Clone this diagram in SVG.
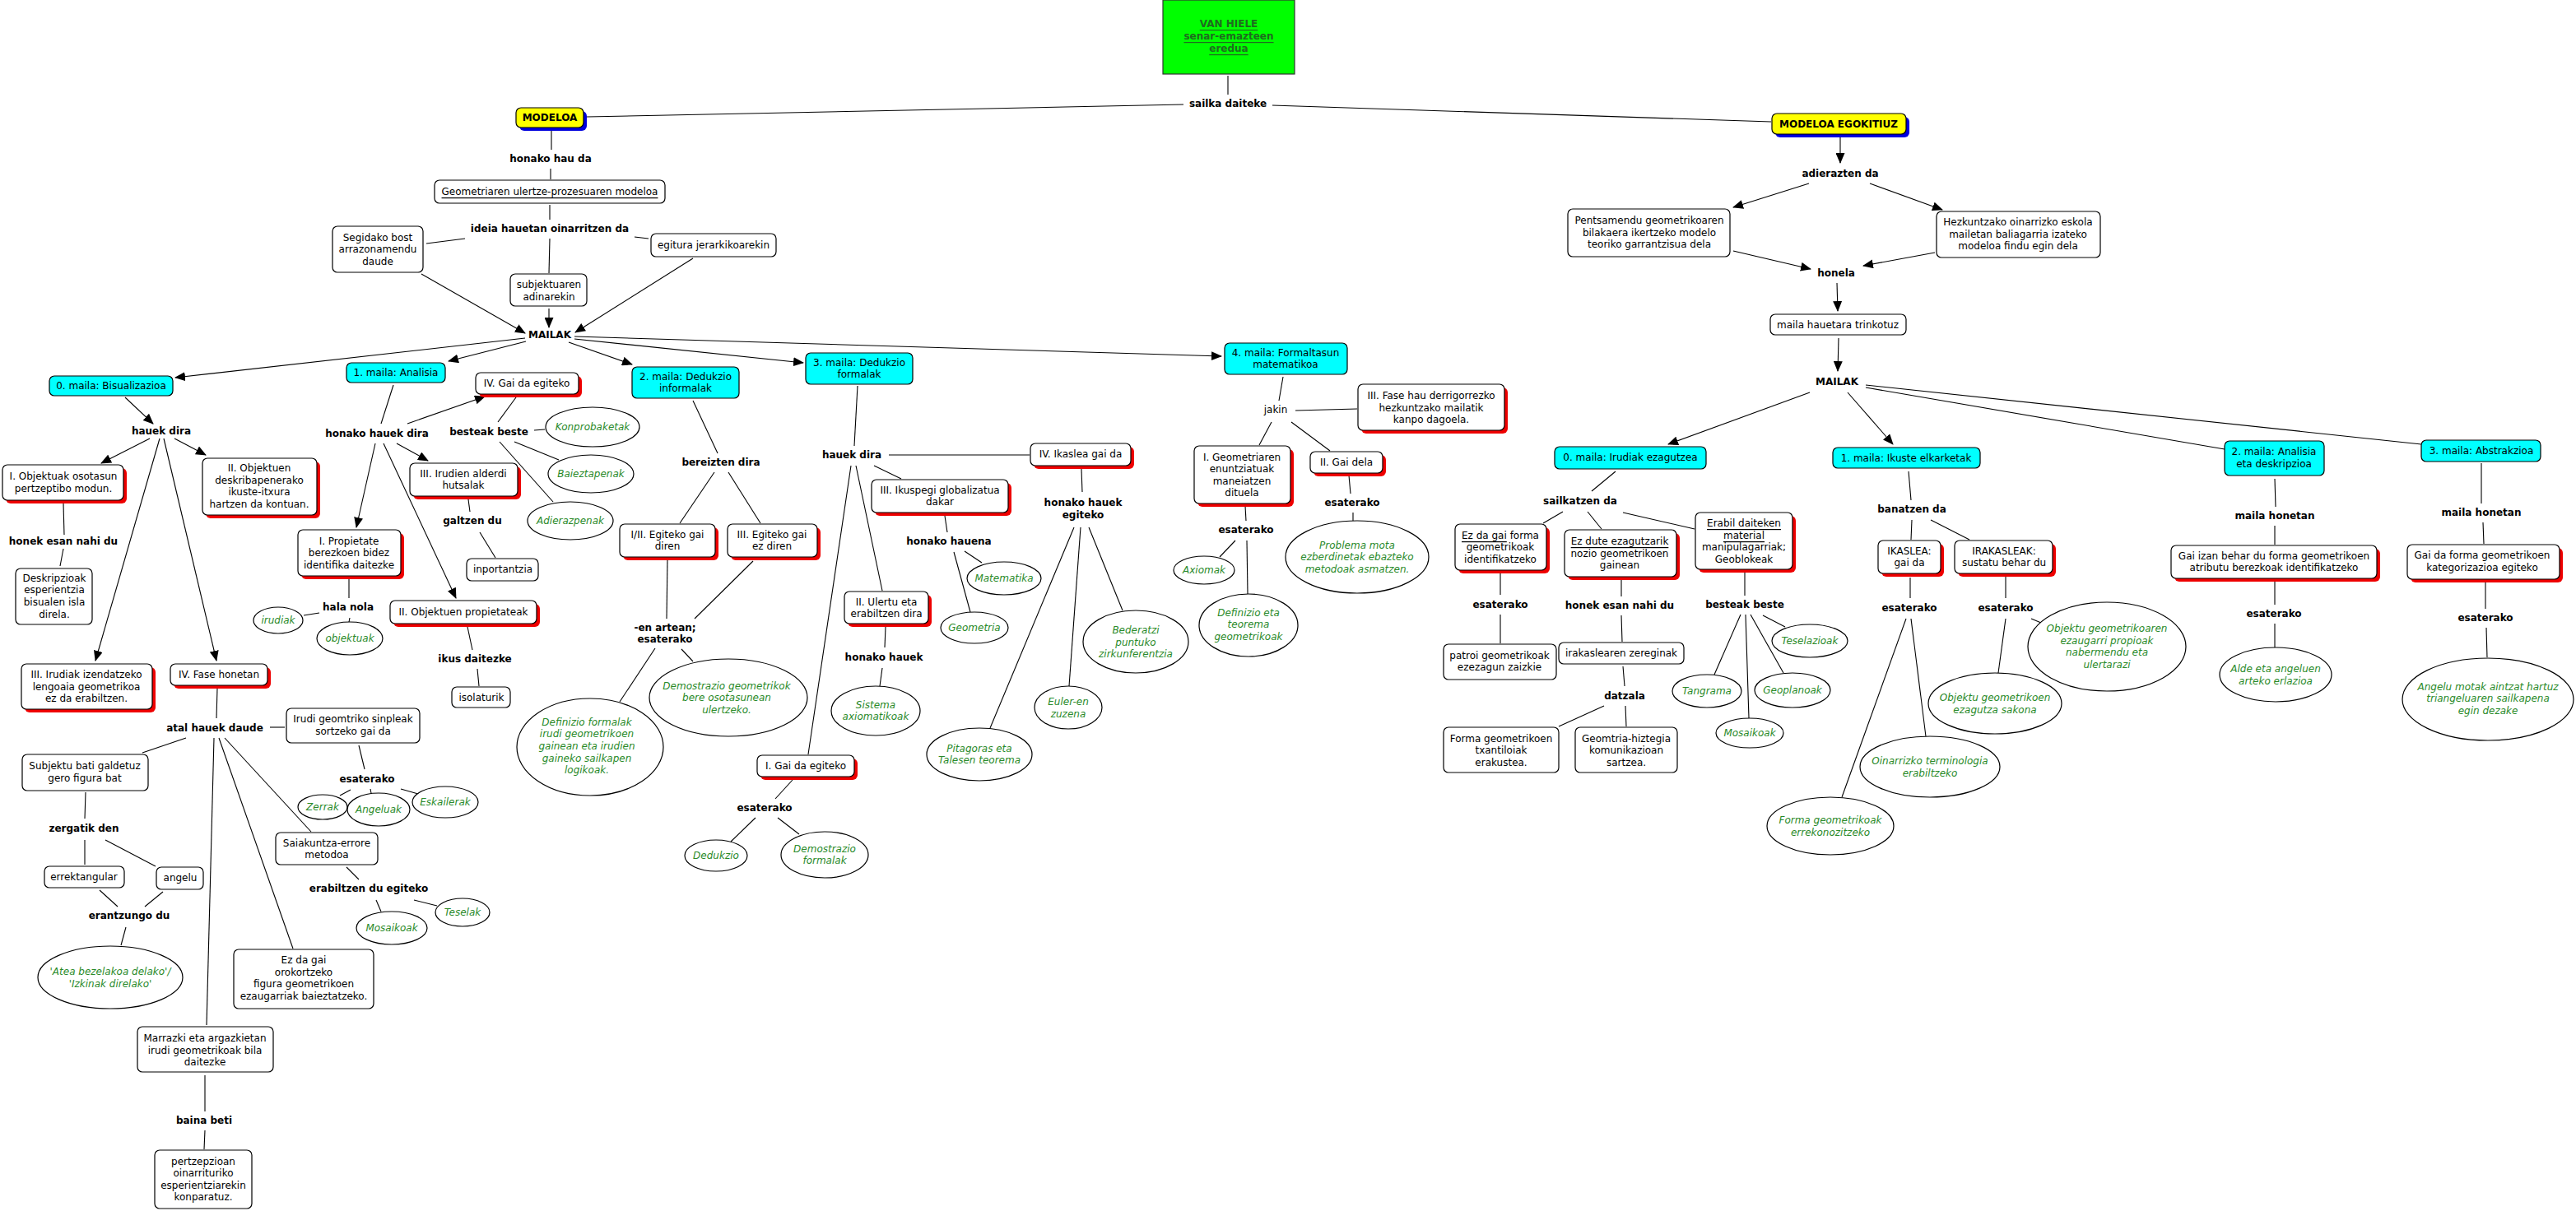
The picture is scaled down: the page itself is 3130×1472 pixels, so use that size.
<svg xmlns="http://www.w3.org/2000/svg" width="3130" height="1472" viewBox="0 0 3130 1472">
<style>
text{font-family:"DejaVu Sans","Liberation Sans",sans-serif;font-size:12px;text-anchor:middle;dominant-baseline:central;fill:#000}
.b{font-weight:bold}
.g{fill:#2a8a2a;font-style:italic}
.u{text-decoration:underline}
.box{fill:#fff;stroke:#000;stroke-width:1.2}
.lvl{fill:#00ffff;stroke:#000;stroke-width:1.2}
.sh{fill:#ee0000}
.ell{fill:#fff;stroke:#000;stroke-width:1.2}
.top{fill:#ffff00;stroke:#000;stroke-width:1.2}
.bsh{fill:#0000dd}
#conn line{stroke:#000;stroke-width:1.1}
#conn line.a{marker-end:url(#ah)}
</style>
<defs>
<marker id="ah" markerUnits="userSpaceOnUse" markerWidth="13" markerHeight="11" refX="12" refY="5.5" viewBox="0 0 13 11" orient="auto"><path d="M0,0 L13,5.5 L0,11 z" fill="#000"/></marker>
</defs>
<rect width="3130" height="1472" fill="#fff"/>
<g id="conn">
<line x1="1492" y1="92" x2="1492" y2="115"/>
<line x1="1438" y1="127" x2="713" y2="142"/>
<line x1="1546" y1="128" x2="2152" y2="148"/>
<line x1="670" y1="159" x2="670" y2="182"/>
<line x1="669" y1="205" x2="669" y2="218"/>
<line x1="668" y1="249" x2="668" y2="267"/>
<line x1="565" y1="290" x2="518" y2="296"/>
<line x1="771" y1="288" x2="788" y2="290"/>
<line x1="668" y1="290" x2="667" y2="332"/>
<line class="a" x1="667" y1="375" x2="667" y2="398"/>
<line class="a" x1="512" y1="333" x2="638" y2="405"/>
<line class="a" x1="842" y1="314" x2="699" y2="404"/>
<line class="a" x1="638" y1="411" x2="213" y2="459"/>
<line class="a" x1="639" y1="415" x2="545" y2="439"/>
<line class="a" x1="691" y1="416" x2="768" y2="443"/>
<line class="a" x1="698" y1="412" x2="976" y2="441"/>
<line class="a" x1="698" y1="409" x2="1484" y2="433"/>
<line class="a" x1="152" y1="483" x2="186" y2="515"/>
<line class="a" x1="182" y1="533" x2="123" y2="563"/>
<line class="a" x1="212" y1="533" x2="250" y2="553"/>
<line class="a" x1="194" y1="533" x2="116" y2="803"/>
<line class="a" x1="199" y1="533" x2="263" y2="803"/>
<line x1="77" y1="612" x2="78" y2="650"/>
<line x1="77" y1="667" x2="73" y2="688"/>
<line x1="264" y1="837" x2="263" y2="873"/>
<line x1="328" y1="884" x2="346" y2="884"/>
<line x1="436" y1="906" x2="443" y2="935"/>
<line x1="426" y1="960" x2="413" y2="967"/>
<line x1="450" y1="959" x2="451" y2="964"/>
<line x1="487" y1="959" x2="508" y2="965"/>
<line x1="226" y1="897" x2="173" y2="915"/>
<line x1="260" y1="897" x2="251" y2="1246"/>
<line x1="266" y1="897" x2="356" y2="1153"/>
<line x1="273" y1="897" x2="378" y2="1011"/>
<line x1="104" y1="963" x2="103" y2="995"/>
<line x1="103" y1="1021" x2="103" y2="1051"/>
<line x1="128" y1="1021" x2="189" y2="1053"/>
<line x1="121" y1="1082" x2="143" y2="1102"/>
<line x1="198" y1="1084" x2="176" y2="1102"/>
<line x1="153" y1="1127" x2="147" y2="1149"/>
<line x1="421" y1="1054" x2="436" y2="1069"/>
<line x1="457" y1="1094" x2="463" y2="1108"/>
<line x1="503" y1="1094" x2="531" y2="1101"/>
<line x1="249" y1="1307" x2="249" y2="1351"/>
<line x1="249" y1="1374" x2="248" y2="1397"/>
<line x1="478" y1="468" x2="463" y2="515"/>
<line class="a" x1="495" y1="515" x2="589" y2="482"/>
<line class="a" x1="456" y1="539" x2="433" y2="641"/>
<line class="a" x1="482" y1="539" x2="520" y2="560"/>
<line class="a" x1="466" y1="539" x2="554" y2="727"/>
<line x1="627" y1="483" x2="605" y2="513"/>
<line x1="649" y1="523" x2="662" y2="522"/>
<line x1="625" y1="537" x2="679" y2="559"/>
<line x1="607" y1="537" x2="672" y2="610"/>
<line x1="569" y1="607" x2="571" y2="622"/>
<line x1="583" y1="647" x2="602" y2="678"/>
<line x1="424" y1="703" x2="424" y2="727"/>
<line x1="388" y1="745" x2="369" y2="748"/>
<line x1="425" y1="751" x2="424" y2="756"/>
<line x1="568" y1="762" x2="574" y2="790"/>
<line x1="580" y1="813" x2="582" y2="834"/>
<line x1="842" y1="487" x2="872" y2="551"/>
<line x1="868" y1="574" x2="826" y2="636"/>
<line x1="885" y1="574" x2="924" y2="636"/>
<line x1="811" y1="680" x2="810" y2="752"/>
<line x1="915" y1="682" x2="844" y2="752"/>
<line x1="796" y1="788" x2="753" y2="853"/>
<line x1="828" y1="789" x2="842" y2="804"/>
<line x1="1042" y1="469" x2="1038" y2="542"/>
<line x1="1080" y1="553" x2="1251" y2="553"/>
<line x1="1062" y1="566" x2="1095" y2="582"/>
<line x1="1040" y1="566" x2="1072" y2="718"/>
<line x1="1034" y1="566" x2="982" y2="917"/>
<line x1="1148" y1="627" x2="1151" y2="647"/>
<line x1="1172" y1="670" x2="1193" y2="684"/>
<line x1="1159" y1="671" x2="1179" y2="744"/>
<line x1="1076" y1="762" x2="1075" y2="787"/>
<line x1="1072" y1="812" x2="1069" y2="834"/>
<line x1="1314" y1="570" x2="1315" y2="598"/>
<line x1="1305" y1="641" x2="1203" y2="885"/>
<line x1="1313" y1="641" x2="1299" y2="834"/>
<line x1="1323" y1="641" x2="1364" y2="742"/>
<line x1="963" y1="948" x2="942" y2="971"/>
<line x1="918" y1="994" x2="888" y2="1023"/>
<line x1="945" y1="994" x2="971" y2="1014"/>
<line x1="1559" y1="458" x2="1554" y2="487"/>
<line x1="1545" y1="513" x2="1530" y2="541"/>
<line x1="1574" y1="499" x2="1649" y2="497"/>
<line x1="1569" y1="513" x2="1616" y2="548"/>
<line x1="1513" y1="615" x2="1514" y2="633"/>
<line x1="1501" y1="657" x2="1482" y2="677"/>
<line x1="1515" y1="657" x2="1516" y2="722"/>
<line x1="1639" y1="578" x2="1641" y2="600"/>
<line x1="1644" y1="623" x2="1644" y2="633"/>
<line class="a" x1="2236" y1="167" x2="2236" y2="198"/>
<line class="a" x1="2198" y1="223" x2="2106" y2="252"/>
<line class="a" x1="2272" y1="223" x2="2360" y2="255"/>
<line class="a" x1="2106" y1="305" x2="2200" y2="327"/>
<line class="a" x1="2351" y1="307" x2="2264" y2="323"/>
<line class="a" x1="2232" y1="344" x2="2233" y2="378"/>
<line class="a" x1="2234" y1="411" x2="2233" y2="451"/>
<line class="a" x1="2199" y1="477" x2="2027" y2="540"/>
<line class="a" x1="2245" y1="477" x2="2300" y2="540"/>
<line x1="2267" y1="468" x2="2942" y2="540"/>
<line x1="2267" y1="471" x2="2703" y2="546"/>
<line x1="1963" y1="573" x2="1934" y2="597"/>
<line x1="1899" y1="622" x2="1875" y2="636"/>
<line x1="1929" y1="622" x2="1946" y2="643"/>
<line x1="1972" y1="623" x2="2059" y2="643"/>
<line x1="1823" y1="696" x2="1823" y2="723"/>
<line x1="1823" y1="747" x2="1823" y2="782"/>
<line x1="1970" y1="705" x2="1970" y2="725"/>
<line x1="1970" y1="748" x2="1971" y2="780"/>
<line x1="1972" y1="810" x2="1974" y2="834"/>
<line x1="1949" y1="858" x2="1894" y2="883"/>
<line x1="1975" y1="858" x2="1976" y2="883"/>
<line x1="2120" y1="696" x2="2120" y2="724"/>
<line x1="2142" y1="748" x2="2169" y2="762"/>
<line x1="2115" y1="747" x2="2083" y2="820"/>
<line x1="2121" y1="747" x2="2125" y2="873"/>
<line x1="2127" y1="747" x2="2167" y2="818"/>
<line x1="2319" y1="573" x2="2322" y2="608"/>
<line x1="2323" y1="632" x2="2322" y2="656"/>
<line x1="2346" y1="632" x2="2393" y2="656"/>
<line x1="2321" y1="702" x2="2321" y2="727"/>
<line x1="2316" y1="752" x2="2238" y2="969"/>
<line x1="2322" y1="752" x2="2340" y2="895"/>
<line x1="2437" y1="701" x2="2437" y2="727"/>
<line x1="2437" y1="752" x2="2428" y2="818"/>
<line x1="2468" y1="752" x2="2480" y2="757"/>
<line x1="2764" y1="582" x2="2765" y2="616"/>
<line x1="2764" y1="639" x2="2764" y2="662"/>
<line x1="2764" y1="707" x2="2764" y2="735"/>
<line x1="2764" y1="758" x2="2764" y2="787"/>
<line x1="3015" y1="563" x2="3015" y2="612"/>
<line x1="3017" y1="635" x2="3018" y2="661"/>
<line x1="3020" y1="708" x2="3020" y2="740"/>
<line x1="3021" y1="763" x2="3022" y2="799"/>
</g>

<g id="vanhiele"><rect x="1413" y="0" width="160" height="90" fill="#00ff00" stroke="#333" stroke-width="1.2"/><text class="b u" fill="#1f6b1f" style="fill:#1f6b1f"><tspan x="1493" y="29">VAN HIELE</tspan><tspan x="1493" y="44">senar-emazteen</tspan><tspan x="1493" y="59">eredua</tspan></text></g>
<g id="l-sailka"><text class="b" x="1492" y="126">sailka daiteke</text></g>
<g id="modeloa"><rect class="bsh" x="631" y="135" width="82" height="24" rx="6"/><rect class="top" x="627" y="131" width="82" height="24" rx="6"/><text class="b" x="668" y="143">MODELOA</text></g>
<g id="modeloa-egok"><rect class="bsh" x="2157" y="142" width="163" height="25" rx="6"/><rect class="top" x="2153" y="138" width="163" height="25" rx="6"/><text class="b" x="2234" y="151">MODELOA EGOKITIUZ</text></g>
<g id="l-honako-hau-da"><text class="b" x="669" y="193">honako hau da</text></g>
<g id="geometriaren"><rect class="box" x="528" y="219" width="280" height="28" rx="6"/><text class="u" x="668" y="233">Geometriaren ulertze-prozesuaren modeloa</text></g>
<g id="l-ideia"><text class="b" x="668" y="278">ideia hauetan oinarritzen da</text></g>
<g id="segidako"><rect class="box" x="404" y="275" width="110" height="56" rx="6"/><text><tspan x="459" y="289">Segidako bost</tspan><tspan x="459" y="303">arrazonamendu</tspan><tspan x="459" y="318">daude</tspan></text></g>
<g id="egitura"><rect class="box" x="791" y="284" width="152" height="28" rx="6"/><text x="867" y="298">egitura jerarkikoarekin</text></g>
<g id="subjektuaren"><rect class="box" x="620" y="333" width="93" height="39" rx="6"/><text><tspan x="667" y="346">subjektuaren</tspan><tspan x="667" y="361">adinarekin</tspan></text></g>
<g id="l-mailak1"><text class="b" x="668" y="407">MAILAK</text></g>
<g id="lvl0"><rect class="lvl" x="60" y="457" width="150" height="24" rx="6"/><text x="135" y="469">0. maila: Bisualizazioa</text></g>
<g id="lvl1"><rect class="lvl" x="421" y="441" width="120" height="24" rx="6"/><text x="481" y="453">1. maila: Analisia</text></g>
<g id="lvl2"><rect class="lvl" x="768" y="446" width="130" height="38" rx="6"/><text><tspan x="833" y="458">2. maila: Dedukzio</tspan><tspan x="833" y="472">informalak</tspan></text></g>
<g id="lvl3"><rect class="lvl" x="979" y="429" width="130" height="38" rx="6"/><text><tspan x="1044" y="441">3. maila: Dedukzio</tspan><tspan x="1044" y="455">formalak</tspan></text></g>
<g id="lvl4"><rect class="lvl" x="1488" y="417" width="149" height="38" rx="6"/><text><tspan x="1562" y="429">4. maila: Formaltasun</tspan><tspan x="1562" y="443">matematikoa</tspan></text></g>

<g id="l-hauek-dira0"><text class="b" x="196" y="524">hauek dira</text></g>
<g id="obj-osotasun"><rect class="sh" x="7" y="569" width="147" height="43" rx="6"/><rect class="box" x="3" y="565" width="147" height="43" rx="6"/><text><tspan x="77" y="579">I. Objektuak osotasun</tspan><tspan x="77" y="594">pertzeptibo modun.</tspan></text></g>
<g id="obj-deskrib"><rect class="sh" x="250" y="561" width="139" height="69" rx="6"/><rect class="box" x="246" y="557" width="139" height="69" rx="6"/><text><tspan x="315" y="569">II. Objektuen</tspan><tspan x="315" y="584">deskribapenerako</tspan><tspan x="315" y="598">ikuste-itxura</tspan><tspan x="315" y="613">hartzen da kontuan.</tspan></text></g>
<g id="l-honek0"><text class="b" x="77" y="658">honek esan nahi du</text></g>
<g id="deskripzioak"><rect class="box" x="19" y="691" width="93" height="68" rx="6"/><text><tspan x="66" y="703">Deskripzioak</tspan><tspan x="66" y="717">esperientzia</tspan><tspan x="66" y="732">bisualen isla</tspan><tspan x="66" y="747">direla.</tspan></text></g>
<g id="irudiak-izend"><rect class="sh" x="30" y="811" width="159" height="55" rx="6"/><rect class="box" x="26" y="807" width="159" height="55" rx="6"/><text><tspan x="105" y="820">III. Irudiak izendatzeko</tspan><tspan x="105" y="835">lengoaia geometrikoa</tspan><tspan x="105" y="849">ez da erabiltzen.</tspan></text></g>
<g id="fase-honetan"><rect class="sh" x="211" y="811" width="118" height="26" rx="6"/><rect class="box" x="207" y="807" width="118" height="26" rx="6"/><text x="266" y="820">IV. Fase honetan</text></g>
<g id="l-atal"><text class="b" x="261" y="885">atal hauek daude</text></g>
<g id="irudi-geom"><rect class="box" x="348" y="861" width="162" height="42" rx="6"/><text><tspan x="429" y="874">Irudi geomtriko sinpleak</tspan><tspan x="429" y="889">sortzeko gai da</tspan></text></g>
<g id="l-esaterako0"><text class="b" x="446" y="947">esaterako</text></g>
<g id="zerrak"><ellipse class="ell" cx="392" cy="981" rx="30" ry="15"/><text class="g" x="392" y="981">Zerrak</text></g>
<g id="angeluak"><ellipse class="ell" cx="460" cy="984" rx="38" ry="20"/><text class="g" x="460" y="984">Angeluak</text></g>
<g id="eskailerak"><ellipse class="ell" cx="541" cy="975" rx="40" ry="19"/><text class="g" x="541" y="975">Eskailerak</text></g>
<g id="subjektu"><rect class="box" x="27" y="917" width="153" height="44" rx="6"/><text><tspan x="103" y="931">Subjektu bati galdetuz</tspan><tspan x="103" y="946">gero figura bat</tspan></text></g>
<g id="l-zergatik"><text class="b" x="102" y="1007">zergatik den</text></g>
<g id="errektangular"><rect class="box" x="54" y="1053" width="97" height="26" rx="6"/><text x="102" y="1066">errektangular</text></g>
<g id="angelu"><rect class="box" x="190" y="1054" width="57" height="27" rx="6"/><text x="219" y="1067">angelu</text></g>
<g id="l-erantzungo"><text class="b" x="157" y="1113">erantzungo du</text></g>
<g id="atea"><ellipse class="ell" cx="134" cy="1188" rx="88" ry="38"/><text class="g"><tspan x="134" y="1181">'Atea bezelakoa delako'/</tspan><tspan x="134" y="1196">'Izkinak direlako'</tspan></text></g>
<g id="saiakuntza"><rect class="box" x="335" y="1012" width="124" height="39" rx="6"/><text><tspan x="397" y="1025">Saiakuntza-errore</tspan><tspan x="397" y="1039">metodoa</tspan></text></g>
<g id="l-erabiltzen"><text class="b" x="448" y="1080">erabiltzen du egiteko</text></g>
<g id="mosaikoak0"><ellipse class="ell" cx="476" cy="1128" rx="43" ry="20"/><text class="g" x="476" y="1128">Mosaikoak</text></g>
<g id="teselak"><ellipse class="ell" cx="562" cy="1109" rx="33" ry="17"/><text class="g" x="562" y="1109">Teselak</text></g>
<g id="ez-orokortzeko"><rect class="box" x="284" y="1154" width="170" height="72" rx="6"/><text><tspan x="369" y="1167">Ez da gai</tspan><tspan x="369" y="1182">orokortzeko</tspan><tspan x="369" y="1196">figura geometrikoen</tspan><tspan x="369" y="1211">ezaugarriak baieztatzeko.</tspan></text></g>
<g id="marrazki"><rect class="box" x="167" y="1248" width="165" height="55" rx="6"/><text><tspan x="249" y="1262">Marrazki eta argazkietan</tspan><tspan x="249" y="1277">irudi geometrikoak bila</tspan><tspan x="249" y="1291">daitezke</tspan></text></g>
<g id="l-baina"><text class="b" x="248" y="1362">baina beti</text></g>
<g id="pertzepzioan"><rect class="box" x="188" y="1398" width="118" height="71" rx="6"/><text><tspan x="247" y="1412">pertzepzioan</tspan><tspan x="247" y="1426">oinarrituriko</tspan><tspan x="247" y="1441">esperientziarekin</tspan><tspan x="247" y="1455">konparatuz.</tspan></text></g>

<g id="l-honako-hauek-dira"><text class="b" x="458" y="527">honako hauek dira</text></g>
<g id="gai-egiteko4"><rect class="sh" x="582" y="457" width="125" height="26" rx="6"/><rect class="box" x="578" y="453" width="125" height="26" rx="6"/><text x="640" y="466">IV. Gai da egiteko</text></g>
<g id="l-besteak1"><text class="b" x="594" y="525">besteak beste</text></g>
<g id="konprobaketak"><ellipse class="ell" cx="720" cy="519" rx="57" ry="24"/><text class="g" x="720" y="519">Konprobaketak</text></g>
<g id="baieztapenak"><ellipse class="ell" cx="718" cy="576" rx="52" ry="23"/><text class="g" x="718" y="576">Baieztapenak</text></g>
<g id="adierazpenak"><ellipse class="ell" cx="693" cy="633" rx="52" ry="23"/><text class="g" x="693" y="633">Adierazpenak</text></g>
<g id="irudien-alderdi"><rect class="sh" x="502" y="567" width="131" height="40" rx="6"/><rect class="box" x="498" y="563" width="131" height="40" rx="6"/><text><tspan x="563" y="576">III. Irudien alderdi</tspan><tspan x="563" y="590">hutsalak</tspan></text></g>
<g id="l-galtzen"><text class="b" x="574" y="633">galtzen du</text></g>
<g id="inportantzia"><rect class="box" x="567" y="679" width="87" height="27" rx="6"/><text x="611" y="692">inportantzia</text></g>
<g id="propietate"><rect class="sh" x="366" y="648" width="125" height="56" rx="6"/><rect class="box" x="362" y="644" width="125" height="56" rx="6"/><text><tspan x="424" y="658">I. Propietate</tspan><tspan x="424" y="672">berezkoen bidez</tspan><tspan x="424" y="687">identifika daitezke</tspan></text></g>
<g id="l-hala"><text class="b" x="423" y="738">hala nola</text></g>
<g id="irudiak"><ellipse class="ell" cx="338" cy="754" rx="30" ry="16"/><text class="g" x="338" y="754">irudiak</text></g>
<g id="objektuak"><ellipse class="ell" cx="425" cy="776" rx="40" ry="20"/><text class="g" x="425" y="776">objektuak</text></g>
<g id="obj-propietateak"><rect class="sh" x="478" y="734" width="178" height="28" rx="6"/><rect class="box" x="474" y="730" width="178" height="28" rx="6"/><text x="563" y="744">II. Objektuen propietateak</text></g>
<g id="l-ikus"><text class="b" x="577" y="801">ikus daitezke</text></g>
<g id="isolaturik"><rect class="box" x="549" y="835" width="71" height="25" rx="6"/><text x="585" y="848">isolaturik</text></g>

<g id="l-bereizten"><text class="b" x="876" y="562">bereizten dira</text></g>
<g id="egiteko-gai"><rect class="sh" x="757" y="641" width="116" height="40" rx="6"/><rect class="box" x="753" y="637" width="116" height="40" rx="6"/><text><tspan x="811" y="650">I/II. Egiteko gai</tspan><tspan x="811" y="664">diren</tspan></text></g>
<g id="egiteko-ez"><rect class="sh" x="888" y="641" width="109" height="40" rx="6"/><rect class="box" x="884" y="637" width="109" height="40" rx="6"/><text><tspan x="938" y="650">III. Egiteko gai</tspan><tspan x="938" y="664">ez diren</tspan></text></g>
<g id="l-en-artean"><text class="b"><tspan x="808" y="763">-en artean;</tspan><tspan x="808" y="777">esaterako</tspan></text></g>
<g id="definizio-formalak"><ellipse class="ell" cx="717" cy="908" rx="89" ry="59"/><text class="g"><tspan x="713" y="878">Definizio formalak</tspan><tspan x="713" y="892">irudi geometrikoen</tspan><tspan x="713" y="907">gainean eta irudien</tspan><tspan x="713" y="922">gaineko sailkapen</tspan><tspan x="713" y="936">logikoak.</tspan></text></g>
<g id="demostrazio-geom"><ellipse class="ell" cx="885" cy="848" rx="96" ry="47"/><text class="g"><tspan x="883" y="834">Demostrazio geometrikok</tspan><tspan x="883" y="848">bere osotasunean</tspan><tspan x="883" y="863">ulertzeko.</tspan></text></g>

<g id="l-hauek-dira3"><text class="b" x="1035" y="553">hauek dira</text></g>
<g id="ikaslea-gai"><rect class="sh" x="1256" y="543" width="122" height="27" rx="6"/><rect class="box" x="1252" y="539" width="122" height="27" rx="6"/><text x="1313" y="552">IV. Ikaslea gai da</text></g>
<g id="ikuspegi"><rect class="sh" x="1063" y="587" width="166" height="40" rx="6"/><rect class="box" x="1059" y="583" width="166" height="40" rx="6"/><text><tspan x="1142" y="596">III. Ikuspegi globalizatua</tspan><tspan x="1142" y="610">dakar</tspan></text></g>
<g id="l-hauena"><text class="b" x="1153" y="658">honako hauena</text></g>
<g id="matematika"><ellipse class="ell" cx="1220" cy="703" rx="45" ry="20"/><text class="g" x="1220" y="703">Matematika</text></g>
<g id="geometria"><ellipse class="ell" cx="1184" cy="763" rx="41" ry="19"/><text class="g" x="1184" y="763">Geometria</text></g>
<g id="ulertu"><rect class="sh" x="1030" y="723" width="102" height="39" rx="6"/><rect class="box" x="1026" y="719" width="102" height="39" rx="6"/><text><tspan x="1077" y="732">II. Ulertu eta</tspan><tspan x="1077" y="746">erabiltzen dira</tspan></text></g>
<g id="l-honako-hauek"><text class="b" x="1074" y="799">honako hauek</text></g>
<g id="sistema"><ellipse class="ell" cx="1064" cy="864" rx="54" ry="30"/><text class="g"><tspan x="1064" y="857">Sistema</tspan><tspan x="1064" y="871">axiomatikoak</tspan></text></g>
<g id="gai-egiteko1"><rect class="sh" x="924" y="922" width="118" height="26" rx="6"/><rect class="box" x="920" y="918" width="118" height="26" rx="6"/><text x="979" y="931">I. Gai da egiteko</text></g>
<g id="l-esaterako3"><text class="b" x="929" y="982">esaterako</text></g>
<g id="dedukzio"><ellipse class="ell" cx="870" cy="1040" rx="38" ry="19"/><text class="g" x="870" y="1040">Dedukzio</text></g>
<g id="demostrazio-formalak"><ellipse class="ell" cx="1002" cy="1039" rx="53" ry="28"/><text class="g"><tspan x="1002" y="1032">Demostrazio</tspan><tspan x="1002" y="1046">formalak</tspan></text></g>
<g id="l-hauek-egiteko"><text class="b"><tspan x="1316" y="611">honako hauek</tspan><tspan x="1316" y="626">egiteko</tspan></text></g>
<g id="pitagoras"><ellipse class="ell" cx="1190" cy="917" rx="64" ry="32"/><text class="g"><tspan x="1190" y="910">Pitagoras eta</tspan><tspan x="1190" y="924">Talesen teorema</tspan></text></g>
<g id="euler"><ellipse class="ell" cx="1298" cy="860" rx="41" ry="26"/><text class="g"><tspan x="1298" y="853">Euler-en</tspan><tspan x="1298" y="868">zuzena</tspan></text></g>
<g id="bederatzi"><ellipse class="ell" cx="1380" cy="780" rx="64" ry="38"/><text class="g"><tspan x="1380" y="766">Bederatzi</tspan><tspan x="1380" y="781">puntuko</tspan><tspan x="1380" y="795">zirkunferentzia</tspan></text></g>

<g id="l-jakin"><text x="1550" y="498">jakin</text></g>
<g id="geom-enuntz"><rect class="sh" x="1455" y="546" width="117" height="70" rx="6"/><rect class="box" x="1451" y="542" width="117" height="70" rx="6"/><text><tspan x="1509" y="556">I. Geometriaren</tspan><tspan x="1509" y="570">enuntziatuak</tspan><tspan x="1509" y="585">maneiatzen</tspan><tspan x="1509" y="599">dituela</tspan></text></g>
<g id="l-esaterako4"><text class="b" x="1514" y="644">esaterako</text></g>
<g id="axiomak"><ellipse class="ell" cx="1463" cy="693" rx="37" ry="17"/><text class="g" x="1463" y="693">Axiomak</text></g>
<g id="definizio-teorema"><ellipse class="ell" cx="1517" cy="760" rx="60" ry="38"/><text class="g"><tspan x="1517" y="745">Definizio eta</tspan><tspan x="1517" y="759">teorema</tspan><tspan x="1517" y="774">geometrikoak</tspan></text></g>
<g id="fase-derrigor"><rect class="sh" x="1654" y="471" width="178" height="56" rx="6"/><rect class="box" x="1650" y="467" width="178" height="56" rx="6"/><text><tspan x="1739" y="481">III. Fase hau derrigorrezko</tspan><tspan x="1739" y="496">hezkuntzako mailatik</tspan><tspan x="1739" y="510">kanpo dagoela.</tspan></text></g>
<g id="gai-dela"><rect class="sh" x="1596" y="553" width="88" height="26" rx="6"/><rect class="box" x="1592" y="549" width="88" height="26" rx="6"/><text x="1636" y="562">II. Gai dela</text></g>
<g id="l-esaterako4b"><text class="b" x="1643" y="611">esaterako</text></g>
<g id="problema"><ellipse class="ell" cx="1649" cy="677" rx="87" ry="44"/><text class="g"><tspan x="1649" y="663">Problema mota</tspan><tspan x="1649" y="677">ezberdinetak ebazteko</tspan><tspan x="1649" y="692">metodoak asmatzen.</tspan></text></g>

<g id="l-adierazten"><text class="b" x="2236" y="211">adierazten da</text></g>
<g id="pentsamendu"><rect class="box" x="1905" y="254" width="197" height="58" rx="6"/><text><tspan x="2004" y="268">Pentsamendu geometrikoaren</tspan><tspan x="2004" y="283">bilakaera ikertzeko modelo</tspan><tspan x="2004" y="297">teoriko garrantzisua dela</tspan></text></g>
<g id="hezkuntzako"><rect class="box" x="2353" y="257" width="199" height="56" rx="6"/><text><tspan x="2452" y="270">Hezkuntzako oinarrizko eskola</tspan><tspan x="2452" y="285">mailetan baliagarria izateko</tspan><tspan x="2452" y="299">modeloa findu egin dela</tspan></text></g>
<g id="l-honela"><text class="b" x="2231" y="332">honela</text></g>
<g id="trinkotuz"><rect class="box" x="2151" y="382" width="165" height="25" rx="6"/><text x="2233" y="395">maila hauetara trinkotuz</text></g>
<g id="l-mailak2"><text class="b" x="2232" y="464">MAILAK</text></g>
<g id="r-lvl0"><rect class="lvl" x="1889" y="543" width="184" height="27" rx="6"/><text x="1981" y="556">0. maila: Irudiak ezagutzea</text></g>
<g id="r-lvl1"><rect class="lvl" x="2227" y="544" width="179" height="25" rx="6"/><text x="2316" y="557">1. maila: Ikuste elkarketak</text></g>
<g id="r-lvl2"><rect class="lvl" x="2703" y="536" width="121" height="42" rx="6"/><text><tspan x="2763" y="549">2. maila: Analisia</tspan><tspan x="2763" y="564">eta deskripzioa</tspan></text></g>
<g id="r-lvl3"><rect class="lvl" x="2942" y="535" width="145" height="26" rx="6"/><text x="3015" y="548">3. maila: Abstrakzioa</text></g>
<g id="l-sailkatzen"><text class="b" x="1920" y="609">sailkatzen da</text></g>
<g id="ez-da-gai"><rect class="sh" x="1772" y="641" width="111" height="56" rx="6"/><rect class="box" x="1768" y="637" width="111" height="56" rx="6"/><text><tspan x="1823" y="651"><tspan class="u">Ez da gai</tspan> forma</tspan><tspan x="1823" y="665">geometrikoak</tspan><tspan x="1823" y="680">identifikatzeko</tspan></text></g>
<g id="ez-dute"><rect class="sh" x="1905" y="648" width="136" height="57" rx="6"/><rect class="box" x="1901" y="644" width="136" height="57" rx="6"/><text><tspan x="1968" y="658" class="u">Ez dute ezagutzarik</tspan><tspan x="1968" y="673">nozio geometrikoen</tspan><tspan x="1968" y="687">gainean</tspan></text></g>
<g id="erabil"><rect class="sh" x="2064" y="627" width="118" height="69" rx="6"/><rect class="box" x="2060" y="623" width="118" height="69" rx="6"/><text><tspan x="2119" y="636" class="u">Erabil daiteken</tspan><tspan x="2119" y="651" class="u">material</tspan><tspan x="2119" y="665">manipulagarriak;</tspan><tspan x="2119" y="680">Geoblokeak</tspan></text></g>
<g id="l-esaterako-r0"><text class="b" x="1823" y="735">esaterako</text></g>
<g id="patroi"><rect class="box" x="1754" y="783" width="137" height="43" rx="6"/><text><tspan x="1822" y="797">patroi geometrikoak</tspan><tspan x="1822" y="811">ezezagun zaizkie</tspan></text></g>
<g id="l-honek-r"><text class="b" x="1968" y="736">honek esan nahi du</text></g>
<g id="irakaslearen"><rect class="box" x="1894" y="781" width="152" height="26" rx="6"/><text x="1970" y="794">irakaslearen zereginak</text></g>
<g id="l-datzala"><text class="b" x="1974" y="846">datzala</text></g>
<g id="txantiloiak"><rect class="box" x="1754" y="884" width="140" height="55" rx="6"/><text><tspan x="1824" y="898">Forma geometrikoen</tspan><tspan x="1824" y="912">txantiloiak</tspan><tspan x="1824" y="927">erakustea.</tspan></text></g>
<g id="hiztegia"><rect class="box" x="1914" y="884" width="124" height="55" rx="6"/><text><tspan x="1976" y="898">Geomtria-hiztegia</tspan><tspan x="1976" y="912">komunikazioan</tspan><tspan x="1976" y="927">sartzea.</tspan></text></g>
<g id="l-besteak-r"><text class="b" x="2120" y="735">besteak beste</text></g>
<g id="teselazioak"><ellipse class="ell" cx="2199" cy="779" rx="46" ry="20"/><text class="g" x="2199" y="779">Teselazioak</text></g>
<g id="tangrama"><ellipse class="ell" cx="2074" cy="840" rx="42" ry="20"/><text class="g" x="2074" y="840">Tangrama</text></g>
<g id="mosaikoak-r"><ellipse class="ell" cx="2126" cy="891" rx="41" ry="18"/><text class="g" x="2126" y="891">Mosaikoak</text></g>
<g id="geoplanoak"><ellipse class="ell" cx="2178" cy="839" rx="46" ry="21"/><text class="g" x="2178" y="839">Geoplanoak</text></g>
<g id="l-banatzen"><text class="b" x="2323" y="619">banatzen da</text></g>
<g id="ikaslea"><rect class="sh" x="2286" y="661" width="76" height="40" rx="6"/><rect class="box" x="2282" y="657" width="76" height="40" rx="6"/><text><tspan x="2320" y="670">IKASLEA:</tspan><tspan x="2320" y="684">gai da</tspan></text></g>
<g id="irakasleak"><rect class="sh" x="2379" y="661" width="119" height="40" rx="6"/><rect class="box" x="2375" y="657" width="119" height="40" rx="6"/><text><tspan x="2435" y="670">IRAKASLEAK:</tspan><tspan x="2435" y="684">sustatu behar du</tspan></text></g>
<g id="l-esaterako-r1a"><text class="b" x="2320" y="739">esaterako</text></g>
<g id="l-esaterako-r1b"><text class="b" x="2437" y="739">esaterako</text></g>
<g id="oinarrizko"><ellipse class="ell" cx="2345" cy="932" rx="85" ry="37"/><text class="g"><tspan x="2345" y="925">Oinarrizko terminologia</tspan><tspan x="2345" y="940">erabiltzeko</tspan></text></g>
<g id="errekonozitzeko"><ellipse class="ell" cx="2224" cy="1004" rx="77" ry="35"/><text class="g"><tspan x="2224" y="997">Forma geometrikoak</tspan><tspan x="2224" y="1012">errekonozitzeko</tspan></text></g>
<g id="ezagutza"><ellipse class="ell" cx="2424" cy="855" rx="81" ry="37"/><text class="g"><tspan x="2424" y="848">Objektu geometrikoen</tspan><tspan x="2424" y="863">ezagutza sakona</tspan></text></g>
<g id="ezaugarri"><ellipse class="ell" cx="2560" cy="786" rx="96" ry="54"/><text class="g"><tspan x="2560" y="764">Objektu geometrikoaren</tspan><tspan x="2560" y="779">ezaugarri propioak</tspan><tspan x="2560" y="793">nabermendu eta</tspan><tspan x="2560" y="808">ulertarazi</tspan></text></g>
<g id="l-maila-honetan2"><text class="b" x="2764" y="627">maila honetan</text></g>
<g id="gai-izan"><rect class="sh" x="2642" y="667" width="250" height="40" rx="6"/><rect class="box" x="2638" y="663" width="250" height="40" rx="6"/><text><tspan x="2763" y="676">Gai izan behar du forma geometrikoen</tspan><tspan x="2763" y="690">atributu berezkoak identifikatzeko</tspan></text></g>
<g id="l-esaterako-r2"><text class="b" x="2763" y="746">esaterako</text></g>
<g id="alde"><ellipse class="ell" cx="2765" cy="820" rx="68" ry="33"/><text class="g"><tspan x="2765" y="813">Alde eta angeluen</tspan><tspan x="2765" y="828">arteko erlazioa</tspan></text></g>
<g id="l-maila-honetan3"><text class="b" x="3015" y="623">maila honetan</text></g>
<g id="gai-da-forma"><rect class="sh" x="2929" y="666" width="185" height="42" rx="6"/><rect class="box" x="2925" y="662" width="185" height="42" rx="6"/><text><tspan x="3016" y="675">Gai da forma geometrikoen</tspan><tspan x="3016" y="690">kategorizazioa egiteko</tspan></text></g>
<g id="l-esaterako-r3"><text class="b" x="3020" y="751">esaterako</text></g>
<g id="angelu-motak"><ellipse class="ell" cx="3023" cy="850" rx="104" ry="50"/><text class="g"><tspan x="3023" y="835">Angelu motak aintzat hartuz</tspan><tspan x="3023" y="849">triangeluaren sailkapena</tspan><tspan x="3023" y="864">egin dezake</tspan></text></g>
</svg>
